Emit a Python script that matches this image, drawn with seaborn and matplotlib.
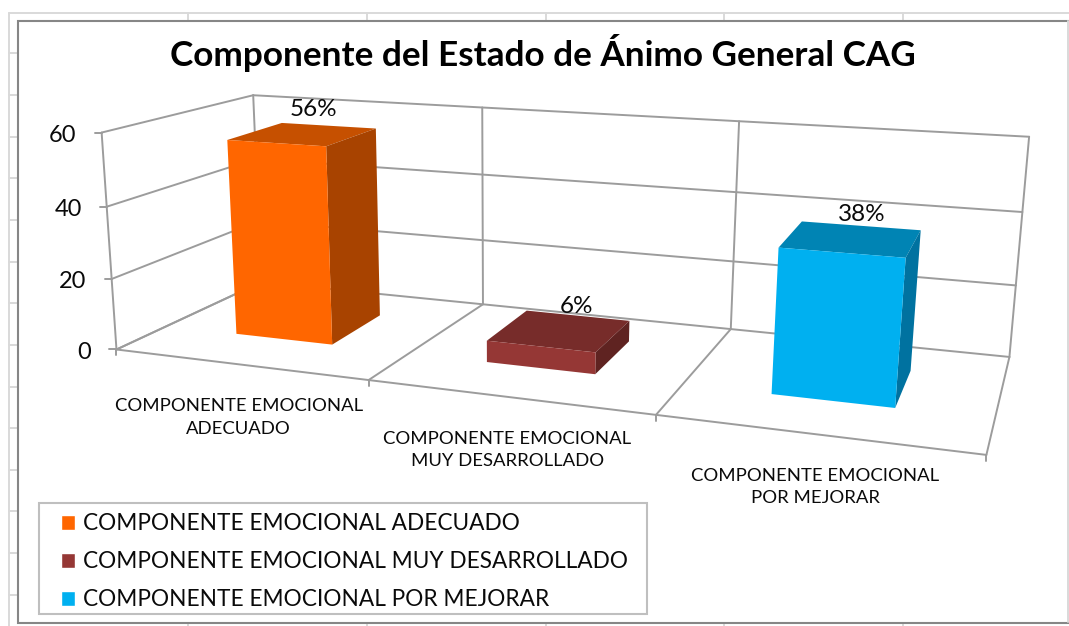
"""
Grafico 3D de barras (estilo Excel) con seaborn: las barras de seaborn se
dibujan en sus ejes y una transformacion de perspectiva las lleva a la escena.
"""

import matplotlib
matplotlib.use("Agg")
import matplotlib.pyplot as plt
import matplotlib.transforms as mtransforms
import numpy as np
import pandas as pd
import seaborn as sns
from matplotlib.lines import Line2D
from matplotlib.patches import Polygon, Rectangle

WIDTH, HEIGHT = 1069, 626

categorias = ["COMPONENTE EMOCIONAL ADECUADO",
              "COMPONENTE EMOCIONAL MUY DESARROLLADO",
              "COMPONENTE EMOCIONAL POR MEJORAR"]
etiquetas_eje = ["COMPONENTE EMOCIONAL\nADECUADO",
                 "COMPONENTE EMOCIONAL\nMUY DESARROLLADO",
                 "COMPONENTE EMOCIONAL\nPOR MEJORAR"]
valores = [56, 6, 38]
y_ticks = [0, 20, 40, 60]
titulo = "Componente del Estado de Ánimo General CAG"

color_frente = ["#FF6600", "#953735", "#00B0F0"]
color_tapa = ["#C65000", "#772C2A", "#0084B4"]
color_lado = ["#A84300", "#5F2321", "#0072A0"]
GRID = "#9c9c9c"
TEXT = "#0a0a0a"

# ---------------------------------------------------------------------------
# Camera: fit a projection (x, value, depth) -> image pixels
# ---------------------------------------------------------------------------
camera_3d = [(-.5, 0, 0), (.5, 0, 0), (1.5, 0, 0), (2.5, 0, 0),
             (-.5, 0, 1), (.5, 0, 1), (1.5, 0, 1), (2.5, 0, 1),
             (-.5, 60, 0), (-.5, 60, 1), (.5, 60, 1), (1.5, 60, 1), (2.5, 60, 1)]
camera_px = [(119, 349), (368, 380), (655, 416), (987, 455),
             (258, 282), (485, 303), (731, 330), (1009, 357),
             (100, 132), (254, 96), (484, 108), (738, 122), (1029, 135)]

rows, rhs = [], []
for (X, Y, Z), (u, v) in zip(camera_3d, camera_px):
    rows.append([X, Y, Z, 1, 0, 0, 0, 0, -u * X, -u * Y, -u * Z])
    rows.append([0, 0, 0, 0, X, Y, Z, 1, -v * X, -v * Y, -v * Z])
    rhs += [u, v]
p = np.linalg.lstsq(np.array(rows, float), np.array(rhs, float), rcond=None)[0]
P = np.append(p, 1.0).reshape(3, 4)


def proj(x, y, z, dx=0, dy=0):
    """Scene point to display coordinates, dx/dy in image pixels."""
    h = P @ np.array([x, y, z, 1.0])
    return h[0] / h[2] + dx, HEIGHT - (h[1] / h[2] + dy)


class Perspective(mtransforms.Transform):
    """Maps (x, value) data at a fixed depth to display coordinates."""
    input_dims = 2
    output_dims = 2
    is_separable = False
    has_inverse = False

    def __init__(self, z, drop=0):
        super().__init__()
        self.z = z
        self.drop = drop

    def transform_non_affine(self, values):
        values = np.asarray(values, float)
        return np.array([proj(a, b, self.z, dy=self.drop) for a, b in values]).reshape(-1, 2)


# ---------------------------------------------------------------------------
# Figure, sheet background
# ---------------------------------------------------------------------------
sns.set_style("white")
plt.rcParams["font.family"] = ["Lato", "DejaVu Sans"]

fig = plt.figure(figsize=(WIDTH / 100, HEIGHT / 100), dpi=100)
ident = mtransforms.IdentityTransform()


def sheet_line(x0, y0, x1, y1, z=-3):
    fig.add_artist(Line2D([x0, x1], [HEIGHT - y0, HEIGHT - y1], color="#d9d9d9", lw=1.4,
                          transform=ident, zorder=z))


sheet_line(9, 13, WIDTH, 13)
sheet_line(9, 13, 9, HEIGHT)
for yy in [53, 95, 137, 178, 220, 262, 303, 345, 387, 428, 470, 511, 553, 595]:
    sheet_line(9, yy, 18, yy)
for xx in [188, 367, 546, 724, 903]:
    sheet_line(xx, 13, xx, 20)
    sheet_line(xx, 622, xx, HEIGHT)
fig.add_artist(Rectangle((17.5, HEIGHT - 622.5), 1070, 602, facecolor="white", edgecolor="#868686",
                         lw=1.5, transform=ident, zorder=-2))
sheet_line(1068, 21, 1068, 622, z=-1)

ax = fig.add_axes([0, 0, 1, 1])
ax.set_axis_off()

# ---------------------------------------------------------------------------
# Bars
# ---------------------------------------------------------------------------
df = pd.DataFrame({"categoria": categorias, "valor": valores})
sns.barplot(data=df, x="categoria", y="valor", hue="categoria", order=categorias,
            hue_order=categorias, palette=color_frente, width=0.4, dodge=False,
            saturation=1, ax=ax, legend=True)
ax.set_xlim(-0.5, 2.5)
ax.set_ylim(0, 60)

Z_FRONT, Z_BACK = 0.36, 0.75
DROP_FRONT, DROP_BACK = 4, 2.5
Z_BAR = Perspective(Z_FRONT, DROP_FRONT)

# grid: back wall, left wall, floor
x_edges = [-0.5, 0.5, 1.5, 2.5]


def grid_line(a, b):
    xs, ys = zip(a, b)
    ax.plot(xs, ys, color=GRID, lw=1.4, transform=ident, clip_on=False, zorder=1)


for t in y_ticks:
    grid_line(proj(-.5, t, 0), proj(-.5, t, 1))
    grid_line(proj(-.5, t, 1), proj(2.5, t, 1))
    grid_line(proj(-.5, t, 0, dx=-7), proj(-.5, t, 0))
    ax.text(*proj(-.5, t, 0, dx=-25, dy=3), str(t), transform=ident, ha="right", va="center",
            fontsize=17, color=TEXT)
for xe in x_edges:
    grid_line(proj(xe, 0, 1), proj(xe, 60, 1))
    grid_line(proj(xe, 0, 0), proj(xe, 0, 1))
    grid_line(proj(xe, 0, 0), proj(xe, 0, 0, dy=6))
grid_line(proj(-.5, 0, 0), proj(-.5, 60, 0))
grid_line(proj(-.5, 0, 0), proj(2.5, 0, 0))

# front face from seaborn, top and side derived from each bar's geometry
bar_shift = [-0.028, -0.02, -0.01]
label_dx = [-15, -1, 1]
label_dy = [-3, 4, 2]
for i, bar in enumerate(list(ax.patches)[:len(valores)]):
    bar.set_x(bar.get_x() + bar_shift[i])
    bar.set_transform(Z_BAR)
    bar.set_clip_on(False)
    bar.set_zorder(3)
    bar.set_edgecolor("none")
    bar.set_linewidth(0)
    x0, x1 = bar.get_x(), bar.get_x() + bar.get_width()
    h = bar.get_height()
    top = [proj(x0, h, Z_FRONT, dy=DROP_FRONT), proj(x1, h, Z_FRONT, dy=DROP_FRONT),
           proj(x1, h, Z_BACK, dy=DROP_BACK), proj(x0, h, Z_BACK, dy=DROP_BACK)]
    side = [proj(x1, 0, Z_FRONT, dy=DROP_FRONT), proj(x1, h, Z_FRONT, dy=DROP_FRONT),
            proj(x1, h, Z_BACK, dy=DROP_BACK), proj(x1, 0, Z_BACK, dy=DROP_BACK)]
    ax.add_patch(Polygon(top, closed=True, facecolor=color_tapa[i], edgecolor="none",
                         transform=ident, clip_on=False, zorder=2.9))
    ax.add_patch(Polygon(side, closed=True, facecolor=color_lado[i], edgecolor="none",
                         transform=ident, clip_on=False, zorder=2.9))
    ax.text(*proj((x0 + x1) / 2, h, Z_BACK, dx=label_dx[i], dy=label_dy[i]), f"{valores[i]}%",
            transform=ident, ha="center", va="bottom", fontsize=17.5, color=TEXT, zorder=4)

# category labels under the front edge
for i, lab in enumerate(etiquetas_eje):
    ax.text(*proj(i, 0, 0, dx=0, dy=53), lab, transform=ident, ha="center", va="center",
            fontsize=13.3, color=TEXT, linespacing=1.5, zorder=4)

ax.set_title(titulo, x=0.508, y=(HEIGHT - 66) / HEIGHT, pad=0, fontsize=25.3,
             fontweight="bold", color="black")

# frame drawn apart because its left padding is wider than the top one
ax.add_patch(Rectangle((38.5, HEIGHT - 614), 608, 111, facecolor="white", edgecolor="#bfbfbf",
                       lw=1.5, transform=ident, clip_on=False, zorder=4.5))
sns.move_legend(ax, "upper left", bbox_to_anchor=(60.5, HEIGHT - 513.5), bbox_transform=ident,
                title=None, frameon=False, fontsize=16.3, borderaxespad=0, borderpad=0,
                labelspacing=0.75, handlelength=0.64, handleheight=0.64, handletextpad=0.35,
                labelcolor=TEXT)
ax.get_legend().set_zorder(5)

fig.savefig("out.png", dpi=100)
plt.close(fig)
